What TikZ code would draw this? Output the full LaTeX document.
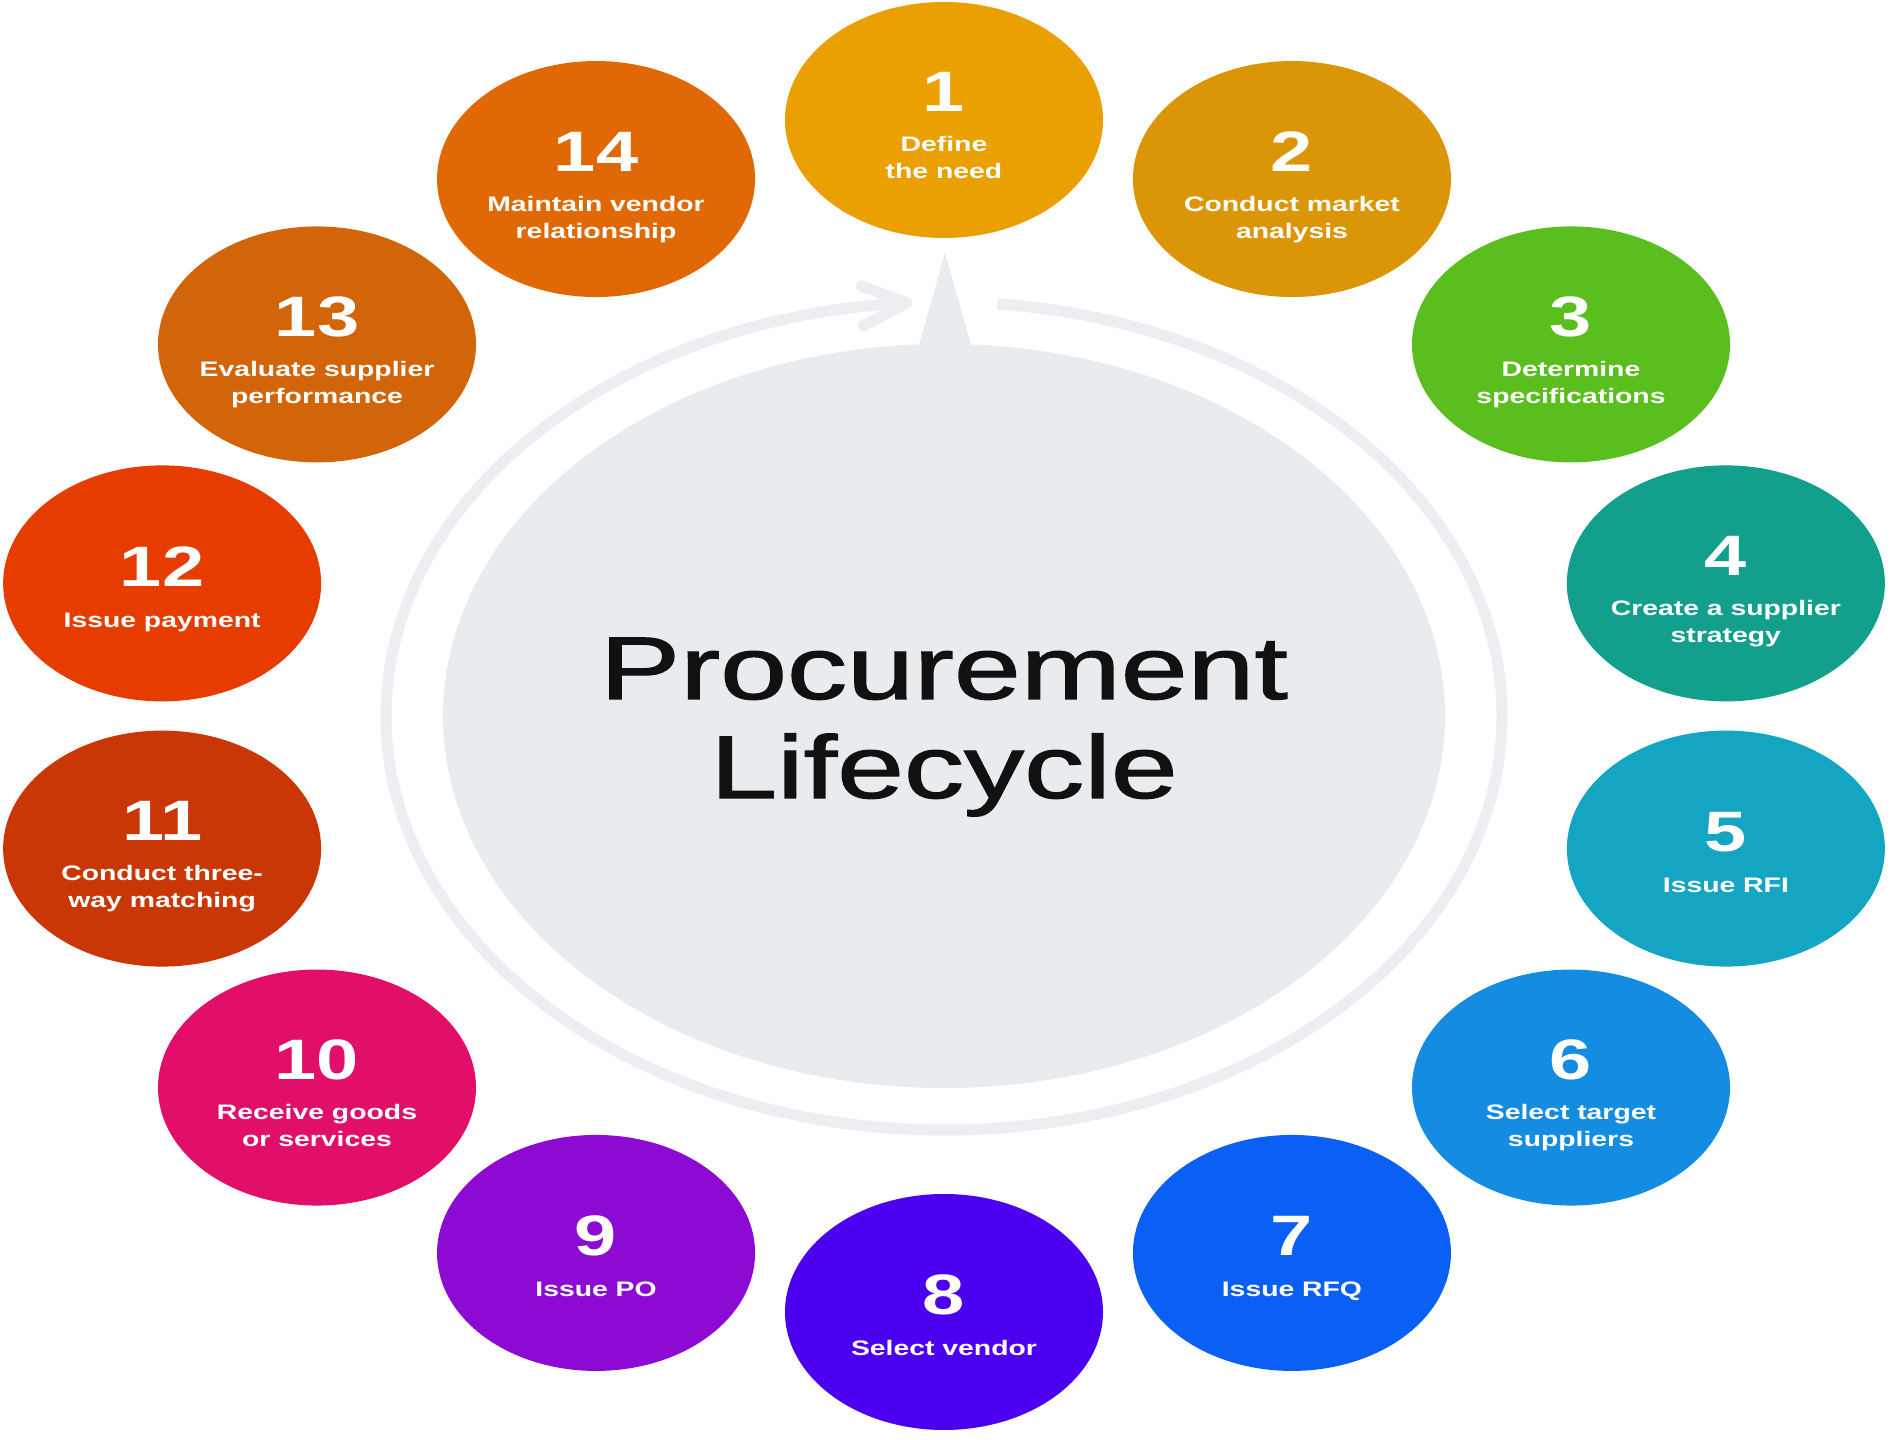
\documentclass[tikz,border=0pt]{standalone}
\usepackage{fontspec}
\setmainfont{Liberation Sans}
\newfontfamily\titlefont[FakeBold=1.2]{Liberation Sans}
\usetikzlibrary{calc,shapes.geometric}
\definecolor{c1}{HTML}{EAA000}
\definecolor{c2}{HTML}{DB9608}
\definecolor{c3}{HTML}{5ABE1E}
\definecolor{c4}{HTML}{12A08C}
\definecolor{c5}{HTML}{14A5C3}
\definecolor{c6}{HTML}{148CE1}
\definecolor{c7}{HTML}{0A5FF5}
\definecolor{c8}{HTML}{4B00F0}
\definecolor{c9}{HTML}{8C0AD2}
\definecolor{c10}{HTML}{E10F69}
\definecolor{c11}{HTML}{C83705}
\definecolor{c12}{HTML}{E63C00}
\definecolor{c13}{HTML}{D2640A}
\definecolor{c14}{HTML}{E16905}
\definecolor{hubgray}{HTML}{E9ECEF}
\definecolor{ringgray}{HTML}{ECEEF1}
\definecolor{titleink}{HTML}{111111}
\tikzset{
  stage/.style={ellipse, minimum width=318pt, minimum height=236pt, inner sep=0pt, draw=none},
  num/.style={anchor=base, text=white, inner sep=0pt, xscale=1.33,
    font=\fontsize{57}{57}\selectfont\bfseries},
  lab/.style={anchor=base, text=white, inner sep=0pt, align=center, xscale=1.35,
    font=\fontsize{21}{27}\selectfont\bfseries},
  hubshape/.style={ellipse, fill=hubgray, minimum width=1002pt, minimum height=744pt, inner sep=0pt},
  ring/.style={draw=ringgray, line width=11pt},
  title/.style={anchor=base, text=titleink, inner sep=0pt, align=center, xscale=1.35,
    font=\fontsize{89}{99}\selectfont\titlefont}
}
\begin{document}
\begin{tikzpicture}[x=1pt,y=1pt]
\useasboundingbox (0,0) rectangle (1890,1440);
\fill[white] (0,0) rectangle (1890,1440);
\coordinate (O) at (944,724);
% outer ring with arrow
\coordinate (rs) at ($(O)+(84.5:558 and 414)$);
\coordinate (tip) at ($(O)+(93.8:558 and 414)$);
\draw[ring] (rs) arc[start angle=84.5, end angle=-266.2, x radius=558, y radius=414];
\draw[ring, line cap=round, line join=round] ($(tip)+(-46,17)$) -- (tip) -- ($(tip)+(-44,-23)$);
% hub
\node[hubshape] (hub) at (O) {};
\fill[hubgray] ($(hub.north)+(1,91)$) -- ($(hub.north)+(-27,-8)$) -- ($(hub.north)+(29,-8)$) -- cycle;
% base anchor of a multi-line node lies on its last line
\coordinate (tpos) at (944,642);
\node[title] (title) at (tpos) {Procurement\\Lifecycle};
% stages
\foreach \k/\two/\lab in {
 1/1/{Define\\the need},
 2/1/{Conduct market\\analysis},
 3/1/{Determine\\specifications},
 4/1/{Create a supplier\\strategy},
 5/0/{Issue RFI},
 6/1/{Select target\\suppliers},
 7/0/{Issue RFQ},
 8/0/{Select vendor},
 9/0/{Issue PO},
 10/1/{Receive goods\\or services},
 11/1/{Conduct three-\\way matching},
 12/0/{Issue payment},
 13/1/{Evaluate supplier\\performance},
 14/1/{Maintain vendor\\relationship}}
{
 \pgfmathsetmacro\ang{90-(\k-1)*360/14}
 \pgfmathsetmacro\ny{\two==1 ? 8 : -3}
 \pgfmathsetmacro\ly{\two==1 ? -59 : -44}
 \node[stage, fill=c\k] (s\k) at ($(O)+(\ang:802 and 596)$) {};
 \node[num] (n\k) at ($(s\k)+(0,\ny)$) {\k};
 \node[lab] (l\k) at ($(s\k)+(0,\ly)$) {\lab};
}
\end{tikzpicture}
\end{document}
